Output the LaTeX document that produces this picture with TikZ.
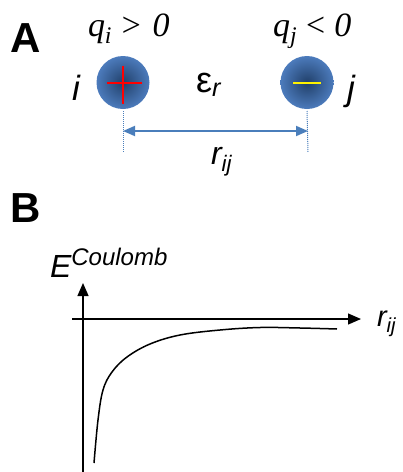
\documentclass[tikz,border=0pt]{standalone}
\usepackage{fontspec}
\setmainfont{Liberation Serif}
\setsansfont{Liberation Sans}
\usetikzlibrary{arrows.meta,positioning}
\definecolor{atomblue}{HTML}{4C7BBC}
\definecolor{atomcore}{HTML}{21406A}
\definecolor{linkblue}{HTML}{4A7EBB}
\newcommand{\fsz}[1]{\fontsize{#1}{#1}\selectfont}

\begin{document}
\begin{tikzpicture}[x=1pt, y=-1pt,
  every node/.style={inner sep=0pt, outer sep=0pt},
  atom/.style={circle, minimum size=53pt, inner color=atomcore, outer color=atomblue},
  panel/.style={anchor=base west, font=\fsz{42}\sffamily\bfseries},
  charge/.style={anchor=base west, font=\fsz{34}\rmfamily\itshape},
  lab/.style={anchor=base west, font=\fsz{35}\sffamily\itshape},
  guide/.style={linkblue, line width=1pt, dash pattern=on 1pt off 1pt},
  axis/.style={line width=1.3pt, -{Triangle[length=13pt, width=11pt]}},
  bluetip/.tip={Triangle[length=12pt, width=10pt]},
]
  \useasboundingbox (0,0) rectangle (403,472);

  % panel A
  \node[panel] (pa) at (10,52) {A};
  \node[atom] (ai) at (123,82.5) {};
  \node[atom] (aj) at (307,82.5) {};
  \draw[red, line width=2pt] ([xshift=-16pt]ai.center) -- ([xshift=19pt]ai.center);
  \draw[red, line width=2pt] ([yshift=17pt]ai.center) -- ([yshift=-21pt]ai.center);
  \draw[yellow, line width=2pt] ([xshift=-14pt]aj.center) -- ([xshift=14pt]aj.center);

  \node[charge] (qi) at (88,36) {q\textsubscript{i}\hspace{0.22em}>\hspace{0.3em}0};
  \node[charge] (qj) at (273,36) {q\textsubscript{j}\hspace{0.2em}<\hspace{0.22em}0};
  \node[lab] (li) at (72,100) {i};
  \node[lab] (lj) at (347,100) {j};
  \node[anchor=base west, font=\fsz{36}\sffamily] (eps) at (196,92)
    {ε\textsubscript{\itshape r}};

  \coordinate (gi) at (123,152);
  \coordinate (gj) at (308,152);
  \draw[guide] ([yshift=-2pt]ai.south) -- (gi);
  \draw[guide] ([yshift=-2pt]aj.south) -- (gj);
  \coordinate (ri) at (123,131);
  \coordinate (rj) at (308,131);
  \draw[linkblue, line width=1.8pt, {bluetip}-{bluetip}] (ri) -- (rj);
  \node[lab, font=\fsz{32}\sffamily\itshape] (rij) at (211,164) {r\textsubscript{ij}};

  % panel B
  \node[panel] (pb) at (10,222) {B};
  \coordinate (ybot) at (83,472);
  \coordinate (ytop) at (83,283);
  \coordinate (xlft) at (72,319);
  \coordinate (xrgt) at (361,319);
  \draw[axis] (ybot) -- (ytop);
  \draw[axis] (xlft) -- (xrgt);
  \node[anchor=base west, font=\fsz{32}\sffamily\itshape] (ec) at (50,277)
    {E\raisebox{12pt}{\fsz{24}Coulomb}};
  \node[lab, font=\fsz{29}\sffamily\itshape] (rx) at (377,326) {r\textsubscript{ij}};

  \draw[line width=1.5pt] plot[smooth, tension=0.6] coordinates {
    (94,463) (98,420) (103,390) (112,372) (127,357) (150,344)
    (180,335) (220,330) (260,327.5) (300,328) (337,329)};
\end{tikzpicture}
\end{document}
